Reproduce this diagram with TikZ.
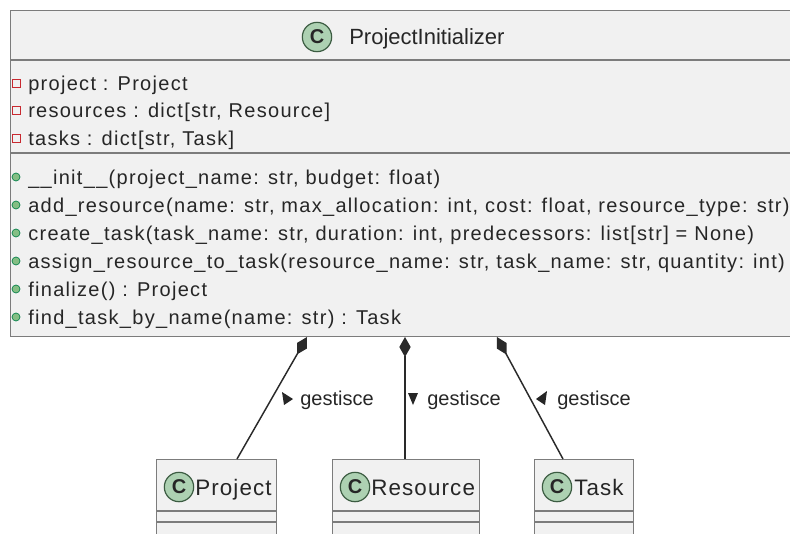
\documentclass[tikz,border=0pt]{standalone}
\usepackage{fontspec}
\setmainfont{Liberation Sans}
\newfontfamily\memberfont[LetterSpace=6.5]{Liberation Sans}
\newfontfamily\cnamefont[LetterSpace=5]{Liberation Sans}
\usetikzlibrary{arrows.meta,calc}

\definecolor{boxfill}{HTML}{F1F1F1}
\definecolor{boxline}{HTML}{7C7C7C}
\definecolor{circfill}{HTML}{ADD1B2}
\definecolor{circline}{HTML}{3B5B41}
\definecolor{privline}{HTML}{C82930}
\definecolor{pubfill}{HTML}{84BE84}
\definecolor{publine}{HTML}{038048}
\definecolor{linkcol}{HTML}{2A2A2A}

\tikzset{
  classbox/.style={draw=boxline, fill=boxfill, line width=1.1pt, inner sep=0pt},
  sepline/.style={draw=boxline, line width=1.1pt},
  member/.style={anchor=base west, inner sep=0pt, font=\memberfont\fontsize{15}{18}\selectfont, text=black!85},
  title/.style={anchor=base west, inner sep=0pt, font=\fontsize{16.5}{18}\selectfont, text=black!85},
  cname/.style={anchor=base west, inner sep=0pt, font=\cnamefont\fontsize{16.8}{18}\selectfont, text=black!85},
  cicon/.style={circle, draw=circline, fill=circfill, line width=0.9pt, minimum size=22pt, inner sep=0pt,
    font=\bfseries\fontsize{15}{15}\selectfont, text=black!85},
  privicon/.style={draw=privline, line width=0.6pt, minimum size=6pt, inner sep=0pt},
  pubicon/.style={circle, draw=publine, fill=pubfill, line width=0.5pt, minimum size=6pt, inner sep=0pt},
  comp/.style={draw=linkcol, line width=1.1pt, {Diamond[length=15pt,width=8.5pt,fill=linkcol]}-},
  lbl/.style={anchor=base west, inner sep=0pt, font=\fontsize{15}{18}\selectfont, text=black!85},
  dirtri/.style={fill=black!85}
}

\begin{document}
\begin{tikzpicture}[x=0.75pt,y=-0.75pt]
\useasboundingbox (0,0) rectangle (790,533);
\clip (0,0) rectangle (790,533);

% ---- ProjectInitializer ----
\node[classbox, anchor=north west, minimum width=800*0.75pt, minimum height=326*0.75pt] (pi) at (10,10) {};
\draw[sepline] (10,60) -- (810,60);
\draw[sepline] (10,153) -- (810,153);
\node[cicon] (picon) at (317,37) {C};
\node[title] (pititle) at (349,44) {ProjectInitializer};

% attributes
\foreach \yy/\txt [count=\i] in {83/{project : Project},110/{resources : dict[str, Resource]},138/{tasks : dict[str, Task]}}{
  \node[privicon] (attricon\i) at (16,\yy) {};
  \node[member] (attr\i) at (28,\yy+7) {\txt};
}

% methods
\foreach \yy/\txt [count=\i] in {
  177/{\_\_init\_\_(project\_name: str, budget: float)},
  205/{add\_resource(name: str, max\_allocation: int, cost: float, resource\_type: str)},
  233/{create\_task(task\_name: str, duration: int, predecessors: list[str] = None)},
  261/{assign\_resource\_to\_task(resource\_name: str, task\_name: str, quantity: int)},
  289/{finalize() : Project},
  317/{find\_task\_by\_name(name: str) : Task}}{
  \node[pubicon] (methicon\i) at (16,\yy) {};
  \node[member] (meth\i) at (28,\yy+7) {\txt};
}

% ---- small classes ----
\node[classbox, anchor=north west, minimum width=120*0.75pt, minimum height=100*0.75pt] (proj) at (156,459) {};
\draw[sepline] (156,511) -- (276,511);
\draw[sepline] (156,522) -- (276,522);
\node[cicon] (projicon) at (179,487) {C};
\node[cname] (projname) at (195,495) {Project};

\node[classbox, anchor=north west, minimum width=147*0.75pt, minimum height=100*0.75pt] (res) at (332,459) {};
\draw[sepline] (332,511) -- (479,511);
\draw[sepline] (332,522) -- (479,522);
\node[cicon] (resicon) at (355,487) {C};
\node[cname] (resname) at (371,495) {Resource};

\node[classbox, anchor=north west, minimum width=99*0.75pt, minimum height=100*0.75pt] (task) at (534,459) {};
\draw[sepline] (534,511) -- (633,511);
\draw[sepline] (534,522) -- (633,522);
\node[cicon] (taskicon) at (557,487) {C};
\node[cname] (taskname) at (574,495) {Task};

% ---- composition links ----
\coordinate (dproj) at (307,337);
\coordinate (dres) at (405,337);
\coordinate (dtask) at (497,337);
\coordinate (eproj) at (237,459);
\coordinate (eres) at (405,459);
\coordinate (etask) at (563,459);
\draw[comp] (dproj) -- (eproj);
\draw[comp] (dres) -- (eres);
\draw[comp] (dtask) -- (etask);

% labels with direction marks
\fill[dirtri] (282,392) -- (293,399) -- (284,405) -- cycle;
\node[lbl] (lproj) at (300,405) {gestisce};
\fill[dirtri] (408,393) -- (418,393) -- (413,405) -- cycle;
\node[lbl] (lres) at (427,405) {gestisce};
\fill[dirtri] (536,399) -- (547,391) -- (545,405) -- cycle;
\node[lbl] (ltask) at (557,405) {gestisce};
\end{tikzpicture}
\end{document}
